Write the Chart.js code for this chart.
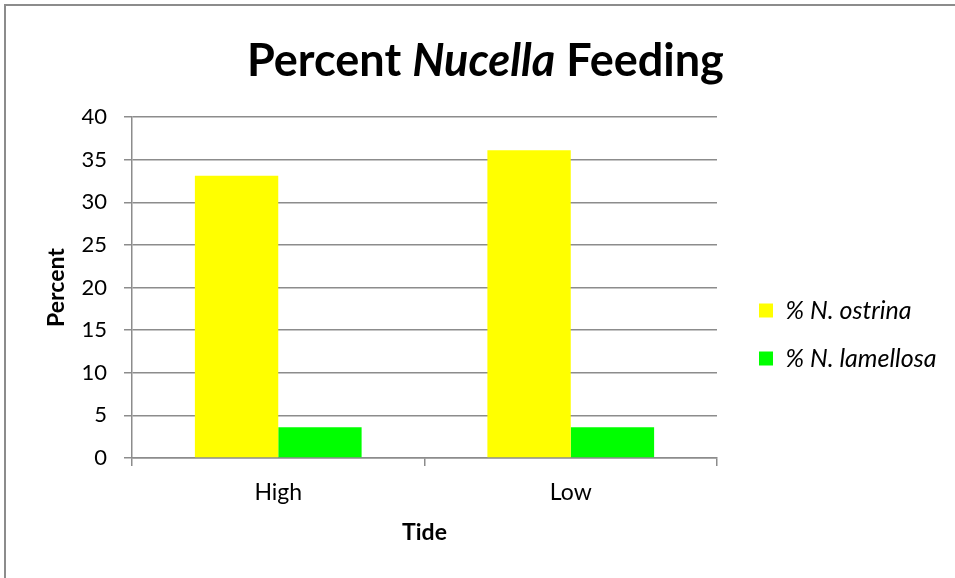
<!DOCTYPE html>
<html>
<head>
<meta charset="utf-8">
<title>Percent Nucella Feeding</title>
<script src="https://cdn.jsdelivr.net/npm/chart.js@4.4.1/dist/chart.umd.min.js"></script>
<style>
  html, body { margin: 0; padding: 0; background: #fff; }
  #wrap { position: relative; width: 955px; height: 578px; overflow: hidden; }
  #frame { position: absolute; left: 4px; top: 4px; width: 960px; height: 590px;
           border-top: 2px solid #8c8c8c; border-left: 2px solid #8c8c8c; pointer-events: none; }
  canvas { position: absolute; left: 0; top: 0; }
</style>
</head>
<body>
<div id="wrap">
  <canvas id="chart" width="955" height="578"></canvas>
  <div id="frame"></div>
</div>
<script>
// Tide levels on the x axis
const tides = ['High', 'Low'];
// Percent of snails found feeding, per species
const ostrinaPercent = [33.1, 36.1];
const lamellosaPercent = [3.6, 3.6];
const seriesNames = ['% N. ostrina', '% N. lamellosa'];
// Y axis range and step
const yMin = 0, yMax = 40, yStep = 5;

const FONT = 'Lato, "Open Sans", sans-serif';
const GRID = '#8c8c8c';

// Title with the genus name set in italics
const titleParts = [
  { text: 'Percent ', style: 'normal' },
  { text: 'Nucella', style: 'italic' },
  { text: ' Feeding', style: 'normal' }
];

const mixedTitle = {
  id: 'mixedTitle',
  afterDraw(chart) {
    const ctx = chart.ctx;
    const targetWidth = 477, left = 247, baseline = 76;
    const base = 100;
    let w = 0;
    ctx.save();
    titleParts.forEach(p => { ctx.font = p.style + ' bold ' + base + 'px ' + FONT; w += ctx.measureText(p.text).width; });
    const size = base * targetWidth / w;
    let x = left;
    ctx.fillStyle = '#000';
    ctx.textBaseline = 'alphabetic';
    ctx.textAlign = 'left';
    titleParts.forEach(p => {
      ctx.font = p.style + ' bold ' + size + 'px ' + FONT;
      ctx.fillText(p.text, x, baseline);
      x += ctx.measureText(p.text).width;
    });
    ctx.restore();
  }
};

// Keeps the legend in a fixed-width column right of the plot
const legendPlacement = {
  id: 'legendPlacement',
  afterInit(chart) {
    const lg = chart.legend;
    const fit = lg.fit.bind(lg);
    lg.fit = function () { fit(); if (!this.isHorizontal()) this.width = 955 - 717; };
  },
  afterLayout(chart) {
    const lg = chart.legend;
    const dx = 19, dy = -13;
    lg.left += dx; lg.right += dx;
    lg.top += dy; lg.bottom += dy;
  }
};

new Chart(document.getElementById('chart'), {
  type: 'bar',
  data: {
    labels: tides,
    datasets: [
      { label: seriesNames[0], data: ostrinaPercent, backgroundColor: '#ffff00', borderWidth: 0 },
      { label: seriesNames[1], data: lamellosaPercent, backgroundColor: '#00ff00', borderWidth: 0 }
    ]
  },
  options: {
    responsive: false,
    animation: false,
    devicePixelRatio: 1,
    layout: { padding: { top: 117, left: 0, right: 0, bottom: 0 } },
    datasets: { bar: { categoryPercentage: 0.57, barPercentage: 1.0 } },
    plugins: {
      title: { display: false },
      tooltip: { enabled: false },
      legend: {
        display: true,
        position: 'right',
        align: 'center',
        labels: {
          boxWidth: 14,
          boxHeight: 14,
          padding: 23,
          color: '#000',
          font: { family: FONT, size: 25, style: 'italic' }
        }
      }
    },
    scales: {
      x: {
        type: 'category',
        offset: true,
        grid: { display: true, drawOnChartArea: false, drawTicks: true, tickLength: 8, offset: true, color: GRID, lineWidth: 1.5 },
        border: { display: true, color: GRID, width: 1.5 },
        ticks: { color: '#000', padding: 13, font: { family: FONT, size: 23 } },
        title: { display: true, text: 'Tide', color: '#000', font: { family: FONT, size: 23, weight: 'bold' }, padding: { top: 4, bottom: 32 } },
        afterFit(s) { s.height = 578 - 458; }
      },
      y: {
        min: yMin,
        max: yMax,
        grid: { display: true, drawOnChartArea: true, drawTicks: true, tickLength: 8, color: GRID, lineWidth: 1.5 },
        border: { display: true, color: GRID, width: 1.5 },
        ticks: { stepSize: yStep, color: '#000', padding: 17, font: { family: FONT, size: 22 } },
        title: { display: true, text: 'Percent', color: '#000', font: { family: FONT, size: 23, weight: 'bold' }, padding: { top: 43, bottom: 4 } },
        afterFit(s) { s.width = 132; }
      }
    }
  },
  plugins: [mixedTitle, legendPlacement]
});
</script>
</body>
</html>
